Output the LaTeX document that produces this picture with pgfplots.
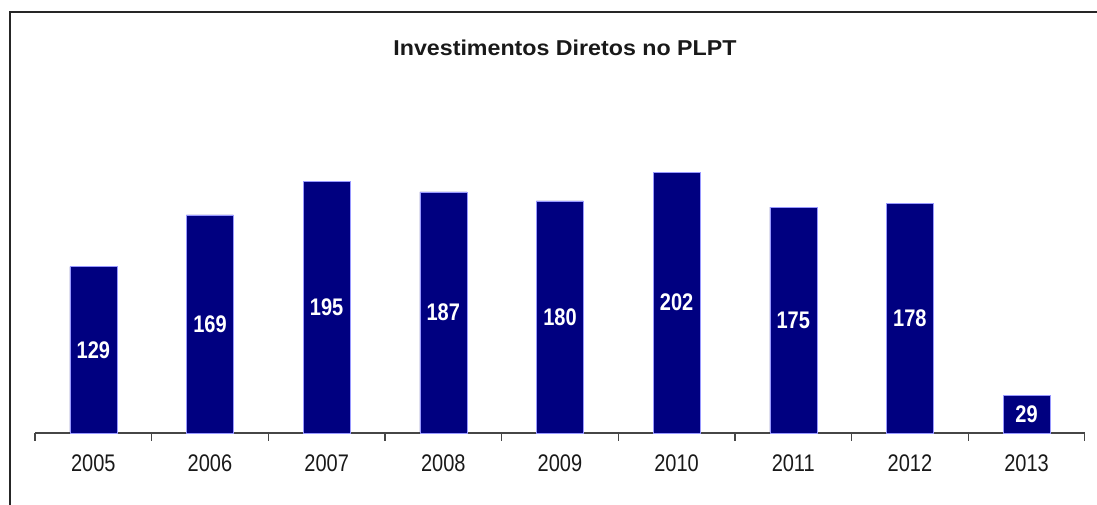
\documentclass[border=0pt]{standalone}
\usepackage{graphicx}
\usepackage{pgfplots}
\pgfplotsset{compat=1.18}
\usepackage{fontspec}
\setmainfont{Liberation Sans}
\definecolor{barnavy}{RGB}{0,0,128}
\definecolor{axgray}{RGB}{70,70,70}
\newcommand{\tall}[1]{\scalebox{1}[1.2]{#1}}
\begin{document}
\begin{tikzpicture}[x=1pt,y=1pt]
\path[use as bounding box] (0,0) rectangle (1097,505);
\draw[line width=1.6pt, black!85] (10,0) -- (10,493) -- (1097,493);
\node[font=\bfseries\fontsize{21.5}{26}\selectfont, text=black!90] at (565,457) {\scalebox{1.08}[1]{Investimentos Diretos no PLPT}};
\begin{axis}[
  at={(35pt,72pt)}, anchor=south west,
  scale only axis, width=1050pt, height=322.5pt,
  xmin=-0.5, xmax=8.5, ymin=0, ymax=250,
  axis x line*=bottom, axis y line=none,
  axis line style={axgray, line width=1.2pt, -},
  xtick={0,...,8},
  xticklabels={\tall{2005},\tall{2006},\tall{2007},\tall{2008},\tall{2009},\tall{2010},\tall{2011},\tall{2012},\tall{2013}},
  major tick length=0pt,
  minor xtick={-0.5,0.5,...,8.5},
  minor tick length=8pt,
  tick align=outside,
  minor tick style={axgray, line width=1.2pt},
  x tick label style={font=\fontsize{20}{24}\selectfont, text=black!90, yshift=-18pt},
  clip=false,
]
\addplot[ybar, bar width=47pt, fill=barnavy, draw=blue!40!white, line width=0.4pt]
  coordinates {(0,129) (1,169) (2,195) (3,187) (4,180) (5,202) (6,175) (7,178) (8,29)};
\addplot[draw=none, mark=none, nodes near coords={\tall{\pgfplotspointmeta}}, point meta=explicit symbolic,
  every node near coord/.append style={anchor=center, text=white, font=\bfseries\fontsize{20}{24}\selectfont}]
  coordinates {(0,64.5) [129] (1,84.5) [169] (2,97.5) [195] (3,93.5) [187] (4,90) [180] (5,101) [202] (6,87.5) [175] (7,89) [178] (8,14.5) [29]};
\end{axis}
\end{tikzpicture}
\end{document}
